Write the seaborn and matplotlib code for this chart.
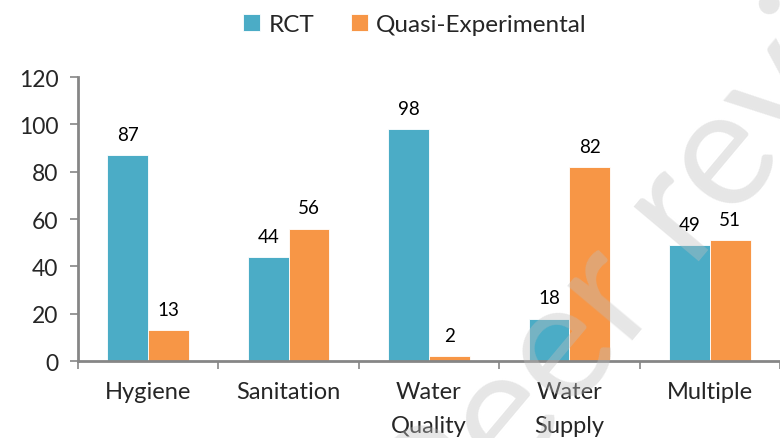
import seaborn as sns
import pandas as pd
import matplotlib.pyplot as plt

categories = ["Hygiene", "Sanitation", "Water\nQuality", "Water\nSupply", "Multiple"]
rct = [87, 44, 98, 18, 49]
quasi = [13, 56, 2, 82, 51]
series = ["RCT", "Quasi-Experimental"]
yticks = [0, 20, 40, 60, 80, 100, 120]

df = pd.DataFrame({
    "category": categories * 2,
    "value": rct + quasi,
    "design": [series[0]] * len(categories) + [series[1]] * len(categories),
})

sns.set_style("white")
plt.rcParams["font.family"] = ["Lato", "DejaVu Sans"]

fig = plt.figure(figsize=(7.8, 4.39), dpi=100)
ax = fig.add_axes([0.1, 0.175, 0.9, 0.647])

sns.barplot(data=df, x="category", y="value", hue="design",
            palette=["#4BACC6", "#F79646"], width=0.58, saturation=1,
            ax=ax, legend=True, edgecolor="white", linewidth=0.6)

for c in ax.containers:
    ax.bar_label(c, padding=9, fontsize=13.5, color="#000000")

ax.set_ylim(0, 120)
ax.set_yticks(yticks)
ax.set_xlim(-0.5, len(categories) - 0.5)
ax.set_xlabel("")
ax.set_ylabel("")
ax.tick_params(axis="y", labelsize=16.5, length=6, width=1.2, color="#868686",
               left=True, pad=8)
ax.tick_params(axis="x", labelsize=17, length=0, pad=14)
ax.set_xticks(range(len(categories)))
ax.set_xticklabels(categories, linespacing=1.8)
ax.set_xticks([i + 0.5 for i in range(-1, len(categories))], minor=True)
ax.tick_params(axis="x", which="minor", length=6, width=1.2, color="#868686",
               bottom=True)
for s in ["top", "right"]:
    ax.spines[s].set_visible(False)
for s in ["left", "bottom"]:
    ax.spines[s].set_color("#868686")
    ax.spines[s].set_linewidth(2)

ax.legend(loc="upper center", bbox_to_anchor=(0.48, 1.30), ncol=2, frameon=False,
          fontsize=17.5, handlelength=0.7, handleheight=0.7, handletextpad=0.35,
          columnspacing=1.5)

# faint diagonal watermark
fig.text(0.575, -0.276, "Peer review", rotation=50, fontsize=120,
         color="#BFBFBF", alpha=0.38, ha="left", va="baseline",
         rotation_mode="anchor")

fig.savefig("out.png", dpi=100)
